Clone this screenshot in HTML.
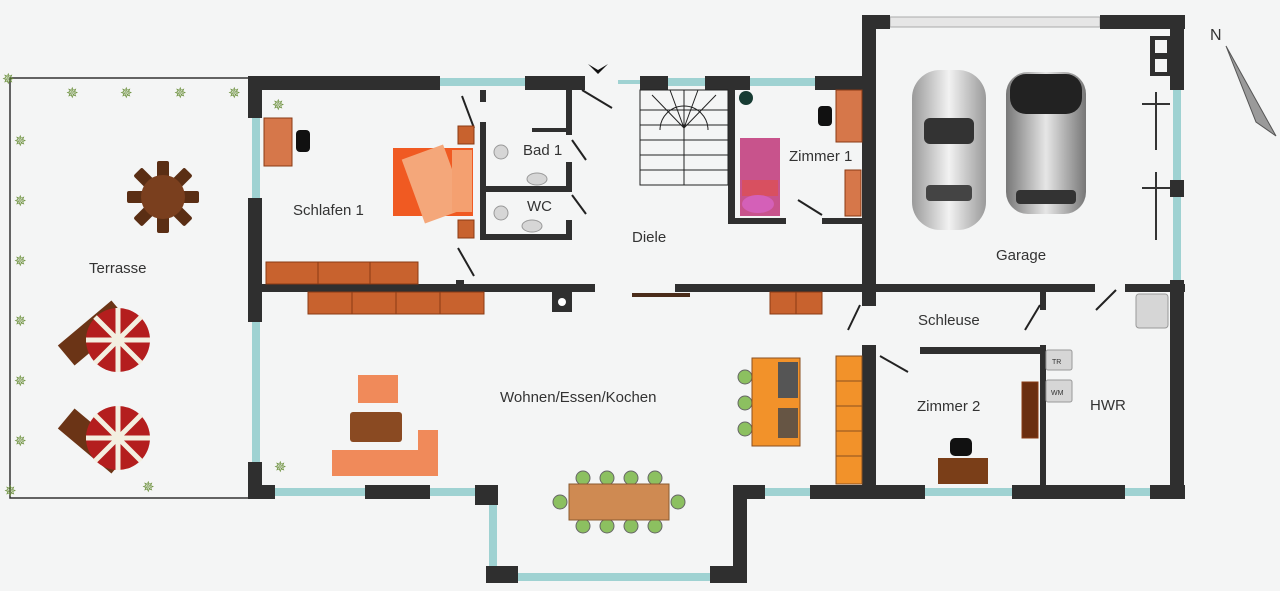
<!DOCTYPE html>
<html><head><meta charset="utf-8"><style>
html,body{margin:0;padding:0;background:#f4f5f5;}
svg{display:block;font-family:"Liberation Sans",sans-serif;}
text{font-size:15px;fill:#333;}
</style></head><body>
<svg width="1280" height="591" viewBox="0 0 1280 591" xmlns="http://www.w3.org/2000/svg">
<defs>
<linearGradient id="car1" x1="0" x2="1"><stop offset="0" stop-color="#9a9a9a"/><stop offset=".5" stop-color="#f2f2f2"/><stop offset="1" stop-color="#9a9a9a"/></linearGradient>
<linearGradient id="car2" x1="0" x2="1"><stop offset="0" stop-color="#777"/><stop offset=".5" stop-color="#e6e6e6"/><stop offset="1" stop-color="#777"/></linearGradient>
</defs>
<rect width="1280" height="591" fill="#f4f5f5"/>
<g stroke="#333" stroke-width="1.5" fill="none">
<path d="M248 78 H10 V498 H248"/>
</g>
<g fill="#6a8f3a" font-size="14">
<text x="2" y="84" style="fill:#6a8f3a">✵</text>
<text x="66" y="98" style="fill:#6a8f3a">✵</text><text x="120" y="98" style="fill:#6a8f3a">✵</text><text x="174" y="98" style="fill:#6a8f3a">✵</text><text x="228" y="98" style="fill:#6a8f3a">✵</text>
<text x="14" y="146" style="fill:#6a8f3a">✵</text><text x="14" y="206" style="fill:#6a8f3a">✵</text><text x="14" y="266" style="fill:#6a8f3a">✵</text><text x="14" y="326" style="fill:#6a8f3a">✵</text><text x="14" y="386" style="fill:#6a8f3a">✵</text><text x="14" y="446" style="fill:#6a8f3a">✵</text><text x="4" y="496" style="fill:#6a8f3a">✵</text>
<text x="142" y="492" style="fill:#6a8f3a">✵</text><text x="272" y="110" style="fill:#6a8f3a">✵</text><text x="274" y="472" style="fill:#6a8f3a">✵</text>
</g>
<g transform="translate(163,197)">
<g fill="#5a2e14"><rect x="-6" y="-36" width="12" height="72" rx="2"/><rect x="-36" y="-6" width="72" height="12" rx="2" transform="rotate(45)"/><rect x="-36" y="-6" width="72" height="12" rx="2" transform="rotate(-45)"/><rect x="-36" y="-6" width="72" height="12" rx="2"/></g>
<circle r="22" fill="#7a3f1e"/>
</g>
<g><rect x="58" y="320" width="70" height="26" fill="#6b3416" transform="rotate(-40 93 333)"/><circle cx="118" cy="340" r="32" fill="#b41e1e"/><path d="M118 308 L118 372 M86 340 L150 340 M95 317 L141 363 M141 317 L95 363" stroke="#f3efe0" stroke-width="5"/></g>
<g><rect x="58" y="428" width="70" height="26" fill="#6b3416" transform="rotate(40 93 441)"/><circle cx="118" cy="438" r="32" fill="#b41e1e"/><path d="M118 406 L118 470 M86 438 L150 438 M95 415 L141 461 M141 415 L95 461" stroke="#f3efe0" stroke-width="5"/></g>
<g fill="#9fd2d2">
<rect x="440" y="78" width="85" height="8"/><rect x="668" y="78" width="37" height="8"/><rect x="750" y="78" width="65" height="8"/><rect x="618" y="80" width="22" height="4"/>
<rect x="252" y="118" width="8" height="80"/><rect x="252" y="322" width="8" height="140"/>
<rect x="275" y="488" width="90" height="8"/><rect x="430" y="488" width="45" height="8"/>
<rect x="489" y="505" width="8" height="65"/><rect x="518" y="573" width="192" height="8"/>
<rect x="765" y="488" width="45" height="8"/><rect x="925" y="488" width="87" height="8"/><rect x="1125" y="488" width="25" height="8"/>
<rect x="1173" y="90" width="8" height="90"/><rect x="1173" y="197" width="8" height="83"/>
</g>
<rect x="890" y="17" width="210" height="10" fill="#e6e6e6" stroke="#aaa"/>
<g fill="#2f2f2f">
<rect x="248" y="76" width="192" height="14"/><rect x="525" y="76" width="60" height="14"/><rect x="640" y="76" width="28" height="14"/><rect x="705" y="76" width="45" height="14"/><rect x="815" y="76" width="55" height="14"/>
<rect x="248" y="76" width="14" height="42"/><rect x="248" y="198" width="14" height="124"/><rect x="248" y="462" width="14" height="37"/>
<rect x="248" y="485" width="27" height="14"/><rect x="365" y="485" width="65" height="14"/><rect x="475" y="485" width="23" height="20"/>
<rect x="486" y="485" width="12" height="20"/><rect x="486" y="566" width="32" height="17"/><rect x="710" y="566" width="37" height="17"/>
<rect x="733" y="485" width="14" height="98"/><rect x="733" y="485" width="32" height="14"/><rect x="810" y="485" width="115" height="14"/><rect x="1012" y="485" width="113" height="14"/><rect x="1150" y="485" width="35" height="14"/>
<rect x="862" y="15" width="14" height="276"/><rect x="862" y="15" width="28" height="14"/><rect x="1100" y="15" width="85" height="14"/>
<rect x="1170" y="15" width="14" height="75"/><rect x="1170" y="180" width="14" height="17"/><rect x="1170" y="280" width="14" height="219"/>
<rect x="1150" y="36" width="20" height="40"/>
<rect x="262" y="284" width="333" height="8"/><rect x="675" y="284" width="420" height="8"/><rect x="1125" y="284" width="60" height="8"/>
<rect x="632" y="293" width="58" height="4" fill="#4a2c1a"/>
<rect x="552" y="292" width="20" height="20"/>
<rect x="862" y="290" width="14" height="16"/><rect x="862" y="345" width="14" height="154"/>
<rect x="920" y="347" width="125" height="7"/><rect x="1040" y="290" width="6" height="20"/><rect x="1040" y="345" width="6" height="154"/>
<rect x="480" y="122" width="6" height="118"/><rect x="480" y="186" width="92" height="6"/><rect x="480" y="234" width="92" height="6"/><rect x="566" y="90" width="6" height="45"/><rect x="566" y="162" width="6" height="30"/><rect x="566" y="220" width="6" height="20"/><rect x="532" y="128" width="40" height="4"/>
<rect x="480" y="90" width="6" height="12"/><rect x="456" y="280" width="8" height="12"/>
<rect x="728" y="90" width="7" height="134"/><rect x="728" y="218" width="58" height="6"/><rect x="822" y="218" width="48" height="6"/>
</g>
<rect x="1155" y="40" width="12" height="13" fill="#f4f5f5"/><rect x="1155" y="59" width="12" height="13" fill="#f4f5f5"/>
<circle cx="562" cy="302" r="4" fill="#fff"/>
<g stroke="#222" stroke-width="2" fill="none">
<path d="M582 90 L612 108"/><path d="M462 96 L474 128"/><path d="M458 248 L474 276"/><path d="M572 140 L586 160"/><path d="M572 195 L586 214"/><path d="M798 200 L822 215"/>
<path d="M860 305 L848 330"/><path d="M1040 305 L1025 330"/><path d="M880 356 L908 372"/><path d="M1116 290 L1096 310"/>
</g>
<path d="M588 64 L598 74 L608 64 L598 70Z" fill="#111"/>
<g stroke="#222" stroke-width="1" fill="none">
<rect x="640" y="90" width="88" height="95"/>
<path d="M684 90 V185 M640 110 H728 M640 125 H728 M640 140 H728 M640 155 H728 M640 170 H728"/>
<path d="M660 130 A24 24 0 0 1 708 130" /><path d="M684 128 L652 95 M684 128 L670 90 M684 128 L698 90 M684 128 L716 95"/>
</g>
<g fill="#c8622e" stroke="#8a3a14">
<rect x="266" y="262" width="52" height="22"/><rect x="318" y="262" width="52" height="22"/><rect x="370" y="262" width="48" height="22"/>
<rect x="308" y="292" width="44" height="22"/><rect x="352" y="292" width="44" height="22"/><rect x="396" y="292" width="44" height="22"/><rect x="440" y="292" width="44" height="22"/>
<rect x="770" y="292" width="26" height="22"/><rect x="796" y="292" width="26" height="22"/>
<rect x="458" y="126" width="16" height="18"/><rect x="458" y="220" width="16" height="18"/>
<rect x="845" y="170" width="16" height="46" fill="#d6774a"/>
<rect x="264" y="118" width="28" height="48" fill="#d6774a"/><rect x="836" y="90" width="26" height="52" fill="#d6774a"/>
<rect x="1022" y="382" width="16" height="56" fill="#6b2e10"/>
</g>
<rect x="296" y="130" width="14" height="22" rx="4" fill="#111"/><rect x="818" y="106" width="14" height="20" rx="4" fill="#111"/><circle cx="746" cy="98" r="7" fill="#173b33"/>
<rect x="393" y="148" width="80" height="68" fill="#f05a22"/><rect x="412" y="150" width="44" height="68" fill="#f4a77a" transform="rotate(-20 434 184)"/><rect x="452" y="150" width="20" height="62" fill="#f4a070"/>
<rect x="740" y="138" width="40" height="78" fill="#c8538c"/><rect x="742" y="180" width="36" height="16" fill="#d85060"/><ellipse cx="758" cy="204" rx="16" ry="9" fill="#d460b8"/>
<g fill="#d6d6d6" stroke="#999"><circle cx="501" cy="152" r="7"/><ellipse cx="537" cy="179" rx="10" ry="6"/><circle cx="501" cy="213" r="7"/><ellipse cx="532" cy="226" rx="10" ry="6"/><rect x="1136" y="294" width="32" height="34" rx="3"/><rect x="1046" y="350" width="26" height="20" rx="2"/><rect x="1046" y="380" width="26" height="22" rx="2"/></g>
<text x="1052" y="364" style="font-size:7px">TR</text><text x="1051" y="395" style="font-size:7px">WM</text>
<rect x="358" y="375" width="40" height="28" fill="#f08a5a"/><rect x="350" y="412" width="52" height="30" rx="3" fill="#8a4a22"/>
<rect x="332" y="450" width="106" height="26" fill="#f08a5a"/><rect x="418" y="430" width="20" height="46" fill="#f08a5a"/>
<g fill="#8cc060" stroke="#666"><circle cx="583" cy="478" r="7"/><circle cx="607" cy="478" r="7"/><circle cx="631" cy="478" r="7"/><circle cx="655" cy="478" r="7"/><circle cx="583" cy="526" r="7"/><circle cx="607" cy="526" r="7"/><circle cx="631" cy="526" r="7"/><circle cx="655" cy="526" r="7"/><circle cx="560" cy="502" r="7"/><circle cx="678" cy="502" r="7"/></g>
<rect x="569" y="484" width="100" height="36" fill="#cf8a52" stroke="#8a5a30"/>
<g fill="#8cc060" stroke="#666"><circle cx="745" cy="377" r="7"/><circle cx="745" cy="403" r="7"/><circle cx="745" cy="429" r="7"/></g>
<rect x="752" y="358" width="48" height="88" fill="#f2922a" stroke="#8a5020"/><rect x="778" y="362" width="20" height="36" fill="#555"/><rect x="778" y="408" width="20" height="30" fill="#654"/>
<g fill="#f2922a" stroke="#8a5020"><rect x="836" y="356" width="26" height="25"/><rect x="836" y="381" width="26" height="25"/><rect x="836" y="406" width="26" height="25"/><rect x="836" y="431" width="26" height="25"/><rect x="836" y="456" width="26" height="28"/></g>
<rect x="938" y="458" width="50" height="26" fill="#7a3e18"/><rect x="950" y="438" width="22" height="18" rx="5" fill="#111"/>
<rect x="912" y="70" width="74" height="160" rx="28" fill="url(#car1)"/><rect x="924" y="118" width="50" height="26" rx="6" fill="#333"/><rect x="926" y="185" width="46" height="16" rx="4" fill="#444"/>
<rect x="1006" y="72" width="80" height="142" rx="22" fill="url(#car2)"/><rect x="1010" y="74" width="72" height="40" rx="16" fill="#222"/><rect x="1016" y="190" width="60" height="14" rx="4" fill="#333"/>
<g stroke="#333" stroke-width="2"><path d="M1156 92 V150 M1142 104 H1170 M1156 172 V240 M1142 188 H1170"/></g>
<path d="M1226 46 L1276 136 L1256 122 Z" fill="#9a9a9a" stroke="#555"/>
<text x="1210" y="40" style="font-size:16px">N</text>
<text x="293" y="215">Schlafen 1</text><text x="523" y="155">Bad 1</text><text x="527" y="211">WC</text><text x="632" y="242">Diele</text>
<text x="789" y="161">Zimmer 1</text><text x="996" y="260">Garage</text><text x="918" y="325">Schleuse</text>
<text x="500" y="402">Wohnen/Essen/Kochen</text><text x="917" y="411">Zimmer 2</text><text x="1090" y="410">HWR</text><text x="89" y="273">Terrasse</text>
</svg>
</body></html>
